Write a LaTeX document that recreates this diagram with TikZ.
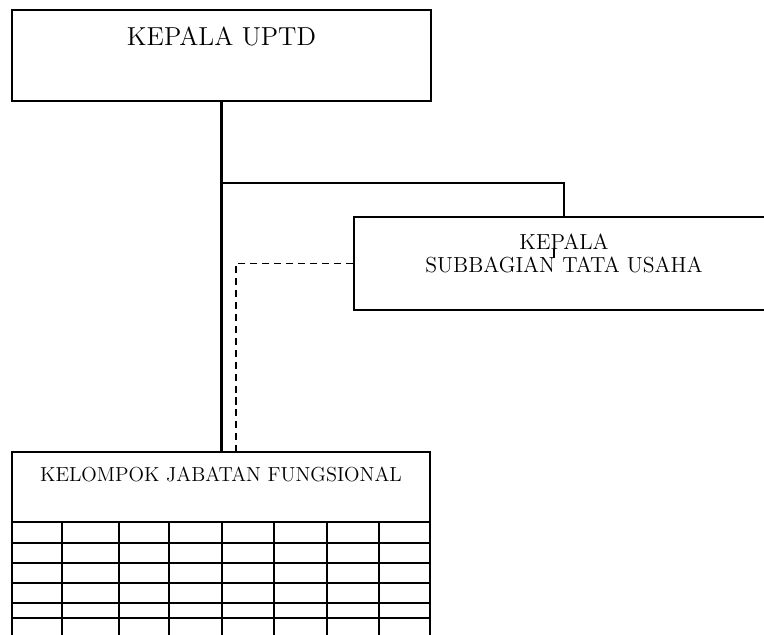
\documentclass[tikz,border=0pt]{standalone}
\usepackage{tikz}
\usetikzlibrary{positioning}
\tikzstyle{unitbox}=[shape=rectangle,draw=black,line width=1.3pt,inner sep=0pt]
\tikzstyle{boxtext}=[anchor=north,inner sep=0pt,align=center]
\tikzstyle{mainedge}=[line width=1.3pt]
\tikzstyle{staffedge}=[line width=1pt,dash pattern=on 4pt off 2.8pt]
\tikzstyle{gridline}=[line width=1.3pt]

\begin{document}
\begin{tikzpicture}[x=0.02cm,y=-0.02cm]
\useasboundingbox (0,0) rectangle (764,635);
% head of unit
\node[unitbox,minimum width=8.38cm,minimum height=1.82cm,
  label={[boxtext,yshift=-0.36cm,font=\fontsize{14.8}{17}\selectfont]north:KEPALA UPTD}] (uptd) at (221.5,55.5) {};
% administration
\node[unitbox,minimum width=8.4cm,minimum height=1.86cm,
  label={[boxtext,yshift=-0.36cm,font=\fontsize{12.4}{13.1}\selectfont]north:KEPALA\\SUBBAGIAN TATA USAHA}] (tu) at (564,263.5) {};
% functional group
\node[unitbox,minimum width=8.36cm,minimum height=1.4cm,
  label={[boxtext,yshift=-0.32cm,font=\fontsize{11.55}{13}\selectfont]north:KELOMPOK JABATAN FUNGSIONAL}] (jf) at (221,487) {};
\foreach \y in {543,563,583,603,618}
  \draw[gridline] (12,\y) -- (430,\y);
\foreach \x in {12,62,119,169,222,274,327,379,430}
  \draw[gridline] (\x,522) -- (\x,650);

% lines
\coordinate (cabang) at (221.5,183);
\draw[mainedge] (uptd.south) -- (uptd.south |- jf.north);
\draw[mainedge] (cabang) -| (tu.north);
\draw[staffedge] (tu.west) -| ([xshift=0.3cm]jf.north);
\draw[line width=0.6pt] ([xshift=-0.2cm,yshift=0.29cm]tu.center) -- ([xshift=-0.2cm,yshift=0.11cm]tu.center);

\end{tikzpicture}
\end{document}
